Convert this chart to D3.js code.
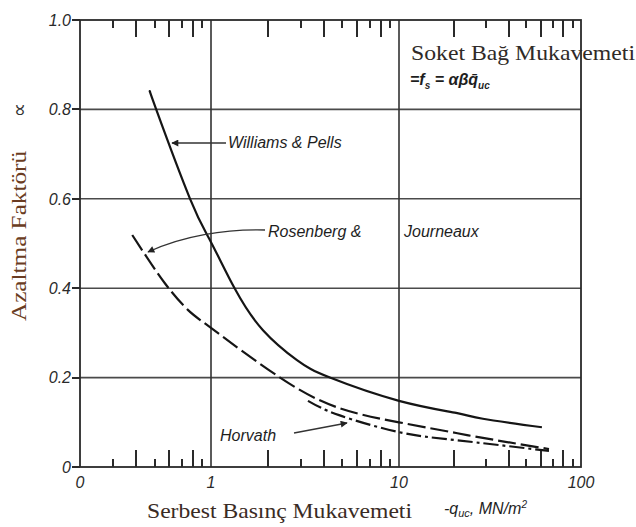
<!DOCTYPE html>
<html>
<head>
<meta charset="utf-8">
<script src="https://cdn.jsdelivr.net/npm/d3@7"></script>
<style>
  body { margin: 0; background: #fff; }
  svg { display: block; }
  .tick-label { font-family: "Liberation Sans", Arial, sans-serif; font-style: italic; font-size: 16px; fill: #2a2a2a; }
  .note { font-family: "Liberation Sans", Arial, sans-serif; font-style: italic; font-size: 16px; fill: #1e1e1e; }
  .serif { font-family: "Liberation Serif", "Times New Roman", serif; }
</style>
</head>
<body>
<svg id="chart" width="636" height="527"></svg>
<script>
// values (x: q_uc in MN/m2, y: alpha)
const williamsX = [0.474, 0.51, 0.773, 1, 1.342, 1.89, 2.866, 4.29, 10, 20.6, 28.9, 61];
const williamsY = [0.839, 0.8, 0.6, 0.503, 0.398, 0.306, 0.239, 0.2, 0.148, 0.121, 0.108, 0.089];

const rosenbergX = [0.38, 0.57, 0.755, 1, 2.33, 4.8, 10, 20.6, 28.9, 66.7];
const rosenbergY = [0.519, 0.41, 0.351, 0.311, 0.2, 0.132, 0.1, 0.076, 0.065, 0.04];

const horvathX = [3.28, 4.8, 10, 20.6, 66.7];
const horvathY = [0.148, 0.116, 0.078, 0.06, 0.036];

const xTickValues = [0.2, 1, 10, 100];
const xTickLabels = ["0", "1", "10", "100"];
const xMinorTicks = [0.3, 0.4, 0.5, 0.6, 0.7, 0.8, 0.9, 2, 3, 4, 5, 6, 7, 8, 9, 20, 30, 40, 50, 60, 70, 80, 90];
const yTickValues = [0, 0.2, 0.4, 0.6, 0.8, 1.0];
const yTickLabels = ["0", "0.2", "0.4", "0.6", "0.8", "1.0"];

const svg = d3.select("#chart");

// scanned axis is a little uneven, so the log scale is piecewise
const x = d3.scaleLog().domain([0.2, 1, 10, 100]).range([80, 211, 399, 581]);
const y = d3.scaleLinear().domain([0, 1]).range([467, 20]);

const xL = x(0.2), xR = x(100), yT = y(1), yB = y(0);
const ink = "#2a2a2a";

// grid
svg.append("path")
    .attr("d", yTickValues.filter(d => d > 0 && d < 1).map(d => `M${xL},${y(d)}H${xR}`).join(""))
    .attr("fill", "none")
    .attr("stroke", "#4a4a4a")
    .attr("stroke-width", 1.6);

svg.append("path")
    .attr("d", [1, 10].map(d => `M${x(d)},${yT}V${yB}`).join(""))
    .attr("fill", "none")
    .attr("stroke", "#333")
    .attr("stroke-width", 1.6);

// frame
svg.append("rect")
    .attr("x", xL).attr("y", yT)
    .attr("width", xR - xL).attr("height", yB - yT)
    .attr("fill", "none")
    .attr("stroke", ink)
    .attr("stroke-width", 1.8);

// minor ticks, inside, bottom and top; 2,4,6,8 long
function tickLen(d) {
    const lead = Math.round(d / Math.pow(10, Math.floor(Math.log10(d) + 1e-9)));
    return lead % 2 === 0 ? 17 : 8;
}

svg.append("path")
    .attr("d", xMinorTicks.map(d => {
        const px = Math.round(x(d));
        return `M${px},${yB}V${yB - tickLen(d)}M${px},${yT}V${yT + tickLen(d)}`;
    }).join(""))
    .attr("fill", "none")
    .attr("stroke", ink)
    .attr("stroke-width", 2);

// y ticks + labels
svg.append("path")
    .attr("d", yTickValues.map(d => `M${xL - 8},${Math.round(y(d))}H${xL}`).join(""))
    .attr("fill", "none")
    .attr("stroke", ink)
    .attr("stroke-width", 2);

svg.append("g")
    .selectAll("text")
    .data(yTickValues)
    .join("text")
    .attr("class", "tick-label")
    .attr("x", xL - 9)
    .attr("y", d => y(d))
    .attr("dy", "0.36em")
    .attr("text-anchor", "end")
    .text((d, i) => yTickLabels[i]);

// x labels
svg.append("g")
    .selectAll("text")
    .data(xTickValues)
    .join("text")
    .attr("class", "tick-label")
    .attr("x", d => x(d))
    .attr("y", yB + 21)
    .attr("text-anchor", "middle")
    .text((d, i) => xTickLabels[i]);

// curves
const line = d3.line()
    .x(d => x(d[0]))
    .y(d => y(d[1]))
    .curve(d3.curveNatural);

const series = [
    { xs: williamsX, ys: williamsY, dash: null },
    { xs: rosenbergX, ys: rosenbergY, dash: "18,5" },
    { xs: horvathX, ys: horvathY, dash: "15,4,3,4" }
];

svg.append("g")
    .selectAll("path")
    .data(series)
    .join("path")
    .attr("d", s => line(d3.zip(s.xs, s.ys)))
    .attr("fill", "none")
    .attr("stroke", "#151515")
    .attr("stroke-width", 2.2)
    .attr("stroke-dasharray", s => s.dash);

// arrows
svg.append("defs").append("marker")
    .attr("id", "head")
    .attr("viewBox", "0 0 10 10")
    .attr("refX", 9).attr("refY", 5)
    .attr("markerWidth", 9).attr("markerHeight", 7)
    .attr("markerUnits", "userSpaceOnUse")
    .attr("orient", "auto")
    .append("path")
    .attr("d", "M0,0L10,5L0,10z")
    .attr("fill", "#222");

const arrow = (d) => svg.append("path")
    .attr("d", d)
    .attr("fill", "none")
    .attr("stroke", "#333")
    .attr("stroke-width", 1.3)
    .attr("marker-end", "url(#head)");

arrow("M226,143L172,143");
arrow("M265,230C225,229 182,236 148,252");
arrow("M294,433L347,423");

// curve labels
svg.append("text").attr("class", "note").attr("x", 228).attr("y", 148).text("Williams & Pells");
svg.append("text").attr("class", "note").attr("x", 268).attr("y", 237).text("Rosenberg &");
svg.append("text").attr("class", "note").attr("x", 404).attr("y", 237).text("Journeaux");
svg.append("text").attr("class", "note").attr("x", 220).attr("y", 441).text("Horvath");

// formula box text
svg.append("text")
    .attr("class", "serif")
    .attr("x", 411).attr("y", 60)
    .attr("font-size", 22)
    .attr("textLength", 224)
    .attr("lengthAdjust", "spacingAndGlyphs")
    .attr("fill", "#2f2a28")
    .text("Soket Bağ Mukavemeti");

const f = svg.append("text")
    .attr("class", "note")
    .attr("x", 410).attr("y", 85)
    .attr("font-size", 15)
    .attr("font-weight", "bold");
f.append("tspan").text("=f");
f.append("tspan").attr("font-size", 10).attr("dy", 4).text("s");
f.append("tspan").attr("dy", -4).text(" = αβq̄");
f.append("tspan").attr("font-size", 10).attr("dy", 4).text("uc");

// axis titles
svg.append("text")
    .attr("class", "serif")
    .attr("transform", "translate(26,236) rotate(-90)")
    .attr("text-anchor", "middle")
    .attr("font-size", 22)
    .attr("textLength", 170)
    .attr("lengthAdjust", "spacingAndGlyphs")
    .attr("fill", "#6a3c22")
    .text("Azaltma Faktörü");

svg.append("text")
    .attr("transform", "translate(26,110) rotate(-90)")
    .attr("text-anchor", "middle")
    .attr("font-family", "DejaVu Sans, sans-serif")
    .attr("font-size", 20)
    .attr("fill", "#333")
    .text("∝");

svg.append("text")
    .attr("class", "serif")
    .attr("x", 147).attr("y", 518)
    .attr("font-size", 22)
    .attr("textLength", 265)
    .attr("lengthAdjust", "spacingAndGlyphs")
    .attr("fill", "#3a2b24")
    .text("Serbest Basınç Mukavemeti");

const q = svg.append("text")
    .attr("class", "note")
    .attr("x", 444).attr("y", 514)
    .attr("font-size", 16);
q.append("tspan").text("-q");
q.append("tspan").attr("font-size", 11).attr("dy", 3).text("uc");
q.append("tspan").attr("dy", -3).text(", MN/m");
q.append("tspan").attr("font-size", 10).attr("dy", -6).text("2");
</script>
</body>
</html>
